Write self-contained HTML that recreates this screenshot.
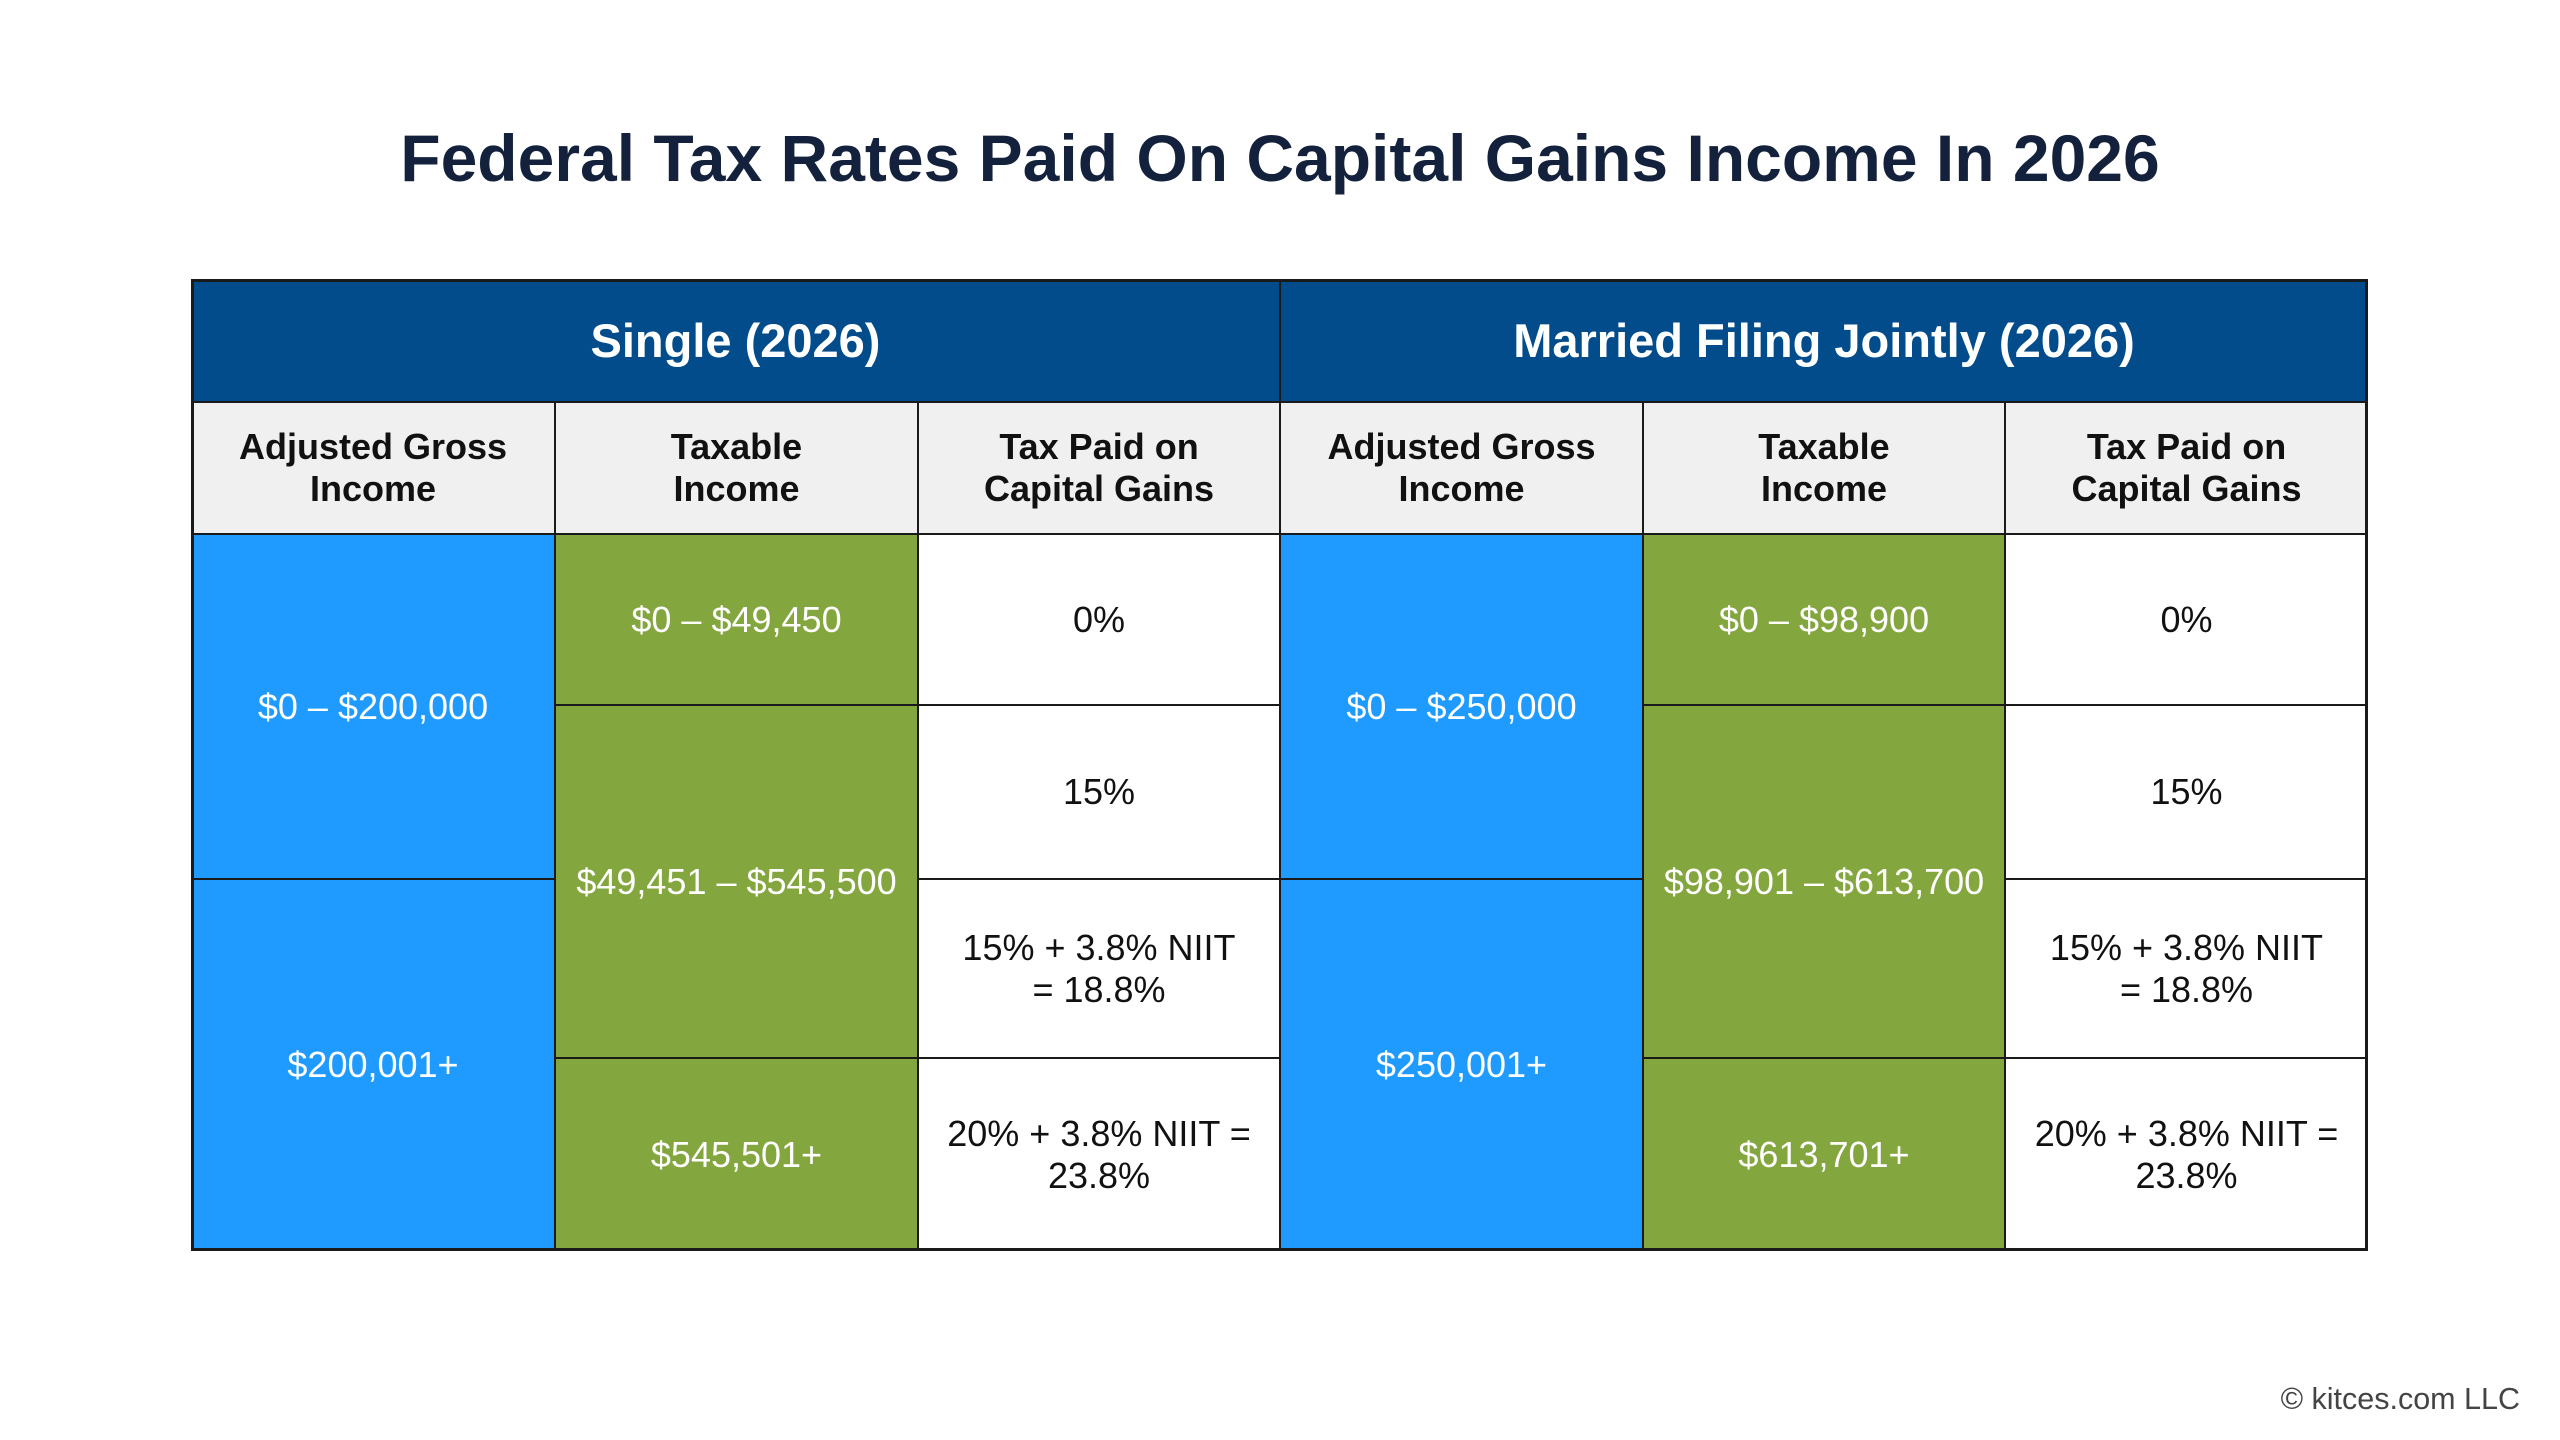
<!DOCTYPE html>
<html><head><meta charset="utf-8"><style>
html,body{margin:0;padding:0;background:#fff;}
body{width:2560px;height:1440px;position:relative;overflow:hidden;font-family:"Liberation Sans",sans-serif;}
.title{position:absolute;left:0;width:2560px;top:120px;text-align:center;font-weight:bold;font-size:66px;color:#13213c;}
.c{position:absolute;box-sizing:border-box;border:1.5px solid #1a1a1a;display:flex;align-items:center;justify-content:center;text-align:center;font-size:36px;line-height:42px;}
.h{background:#024c8b;color:#fff;font-weight:bold;font-size:47px;}
.s{background:#f0f0f0;color:#111;font-weight:bold;}
.b{background:#1f9bff;color:#fff;}
.g{background:#84a63f;color:#fff;}
.w{background:#fff;color:#111;}
.copy{position:absolute;right:40px;top:1382px;font-size:30.5px;color:#444;}
.frame{position:absolute;left:191px;top:279px;width:2177px;height:972px;box-sizing:border-box;border:3px solid #1a1a1a;pointer-events:none;}
</style></head><body>
<div class="title">Federal Tax Rates Paid On Capital Gains Income In 2026</div>

<div class="c h" style="left:191px;top:279px;width:1089px;height:123px;">Single (2026)</div>
<div class="c h" style="left:1280px;top:279px;width:1088px;height:123px;">Married Filing Jointly (2026)</div>

<div class="c s" style="left:191px;top:402px;width:364px;height:132px;">Adjusted Gross<br>Income</div>
<div class="c s" style="left:555px;top:402px;width:363px;height:132px;">Taxable<br>Income</div>
<div class="c s" style="left:918px;top:402px;width:362px;height:132px;">Tax Paid on<br>Capital Gains</div>
<div class="c s" style="left:1280px;top:402px;width:363px;height:132px;">Adjusted Gross<br>Income</div>
<div class="c s" style="left:1643px;top:402px;width:362px;height:132px;">Taxable<br>Income</div>
<div class="c s" style="left:2005px;top:402px;width:363px;height:132px;">Tax Paid on<br>Capital Gains</div>

<!-- Single -->
<div class="c b" style="left:191px;top:534px;width:364px;height:345px;">$0 – $200,000</div>
<div class="c b" style="left:191px;top:879px;width:364px;height:372px;">$200,001+</div>
<div class="c g" style="left:555px;top:534px;width:363px;height:171px;">$0 – $49,450</div>
<div class="c g" style="left:555px;top:705px;width:363px;height:353px;">$49,451 – $545,500</div>
<div class="c g" style="left:555px;top:1058px;width:363px;height:193px;">$545,501+</div>
<div class="c w" style="left:918px;top:534px;width:362px;height:171px;">0%</div>
<div class="c w" style="left:918px;top:705px;width:362px;height:174px;">15%</div>
<div class="c w" style="left:918px;top:879px;width:362px;height:179px;">15% + 3.8% NIIT<br>= 18.8%</div>
<div class="c w" style="left:918px;top:1058px;width:362px;height:193px;">20% + 3.8% NIIT =<br>23.8%</div>

<!-- MFJ -->
<div class="c b" style="left:1280px;top:534px;width:363px;height:345px;">$0 – $250,000</div>
<div class="c b" style="left:1280px;top:879px;width:363px;height:372px;">$250,001+</div>
<div class="c g" style="left:1643px;top:534px;width:362px;height:171px;">$0 – $98,900</div>
<div class="c g" style="left:1643px;top:705px;width:362px;height:353px;">$98,901 – $613,700</div>
<div class="c g" style="left:1643px;top:1058px;width:362px;height:193px;">$613,701+</div>
<div class="c w" style="left:2005px;top:534px;width:363px;height:171px;">0%</div>
<div class="c w" style="left:2005px;top:705px;width:363px;height:174px;">15%</div>
<div class="c w" style="left:2005px;top:879px;width:363px;height:179px;">15% + 3.8% NIIT<br>= 18.8%</div>
<div class="c w" style="left:2005px;top:1058px;width:363px;height:193px;">20% + 3.8% NIIT =<br>23.8%</div>

<div class="frame"></div>
<div class="copy">© kitces.com LLC</div>
</body></html>
